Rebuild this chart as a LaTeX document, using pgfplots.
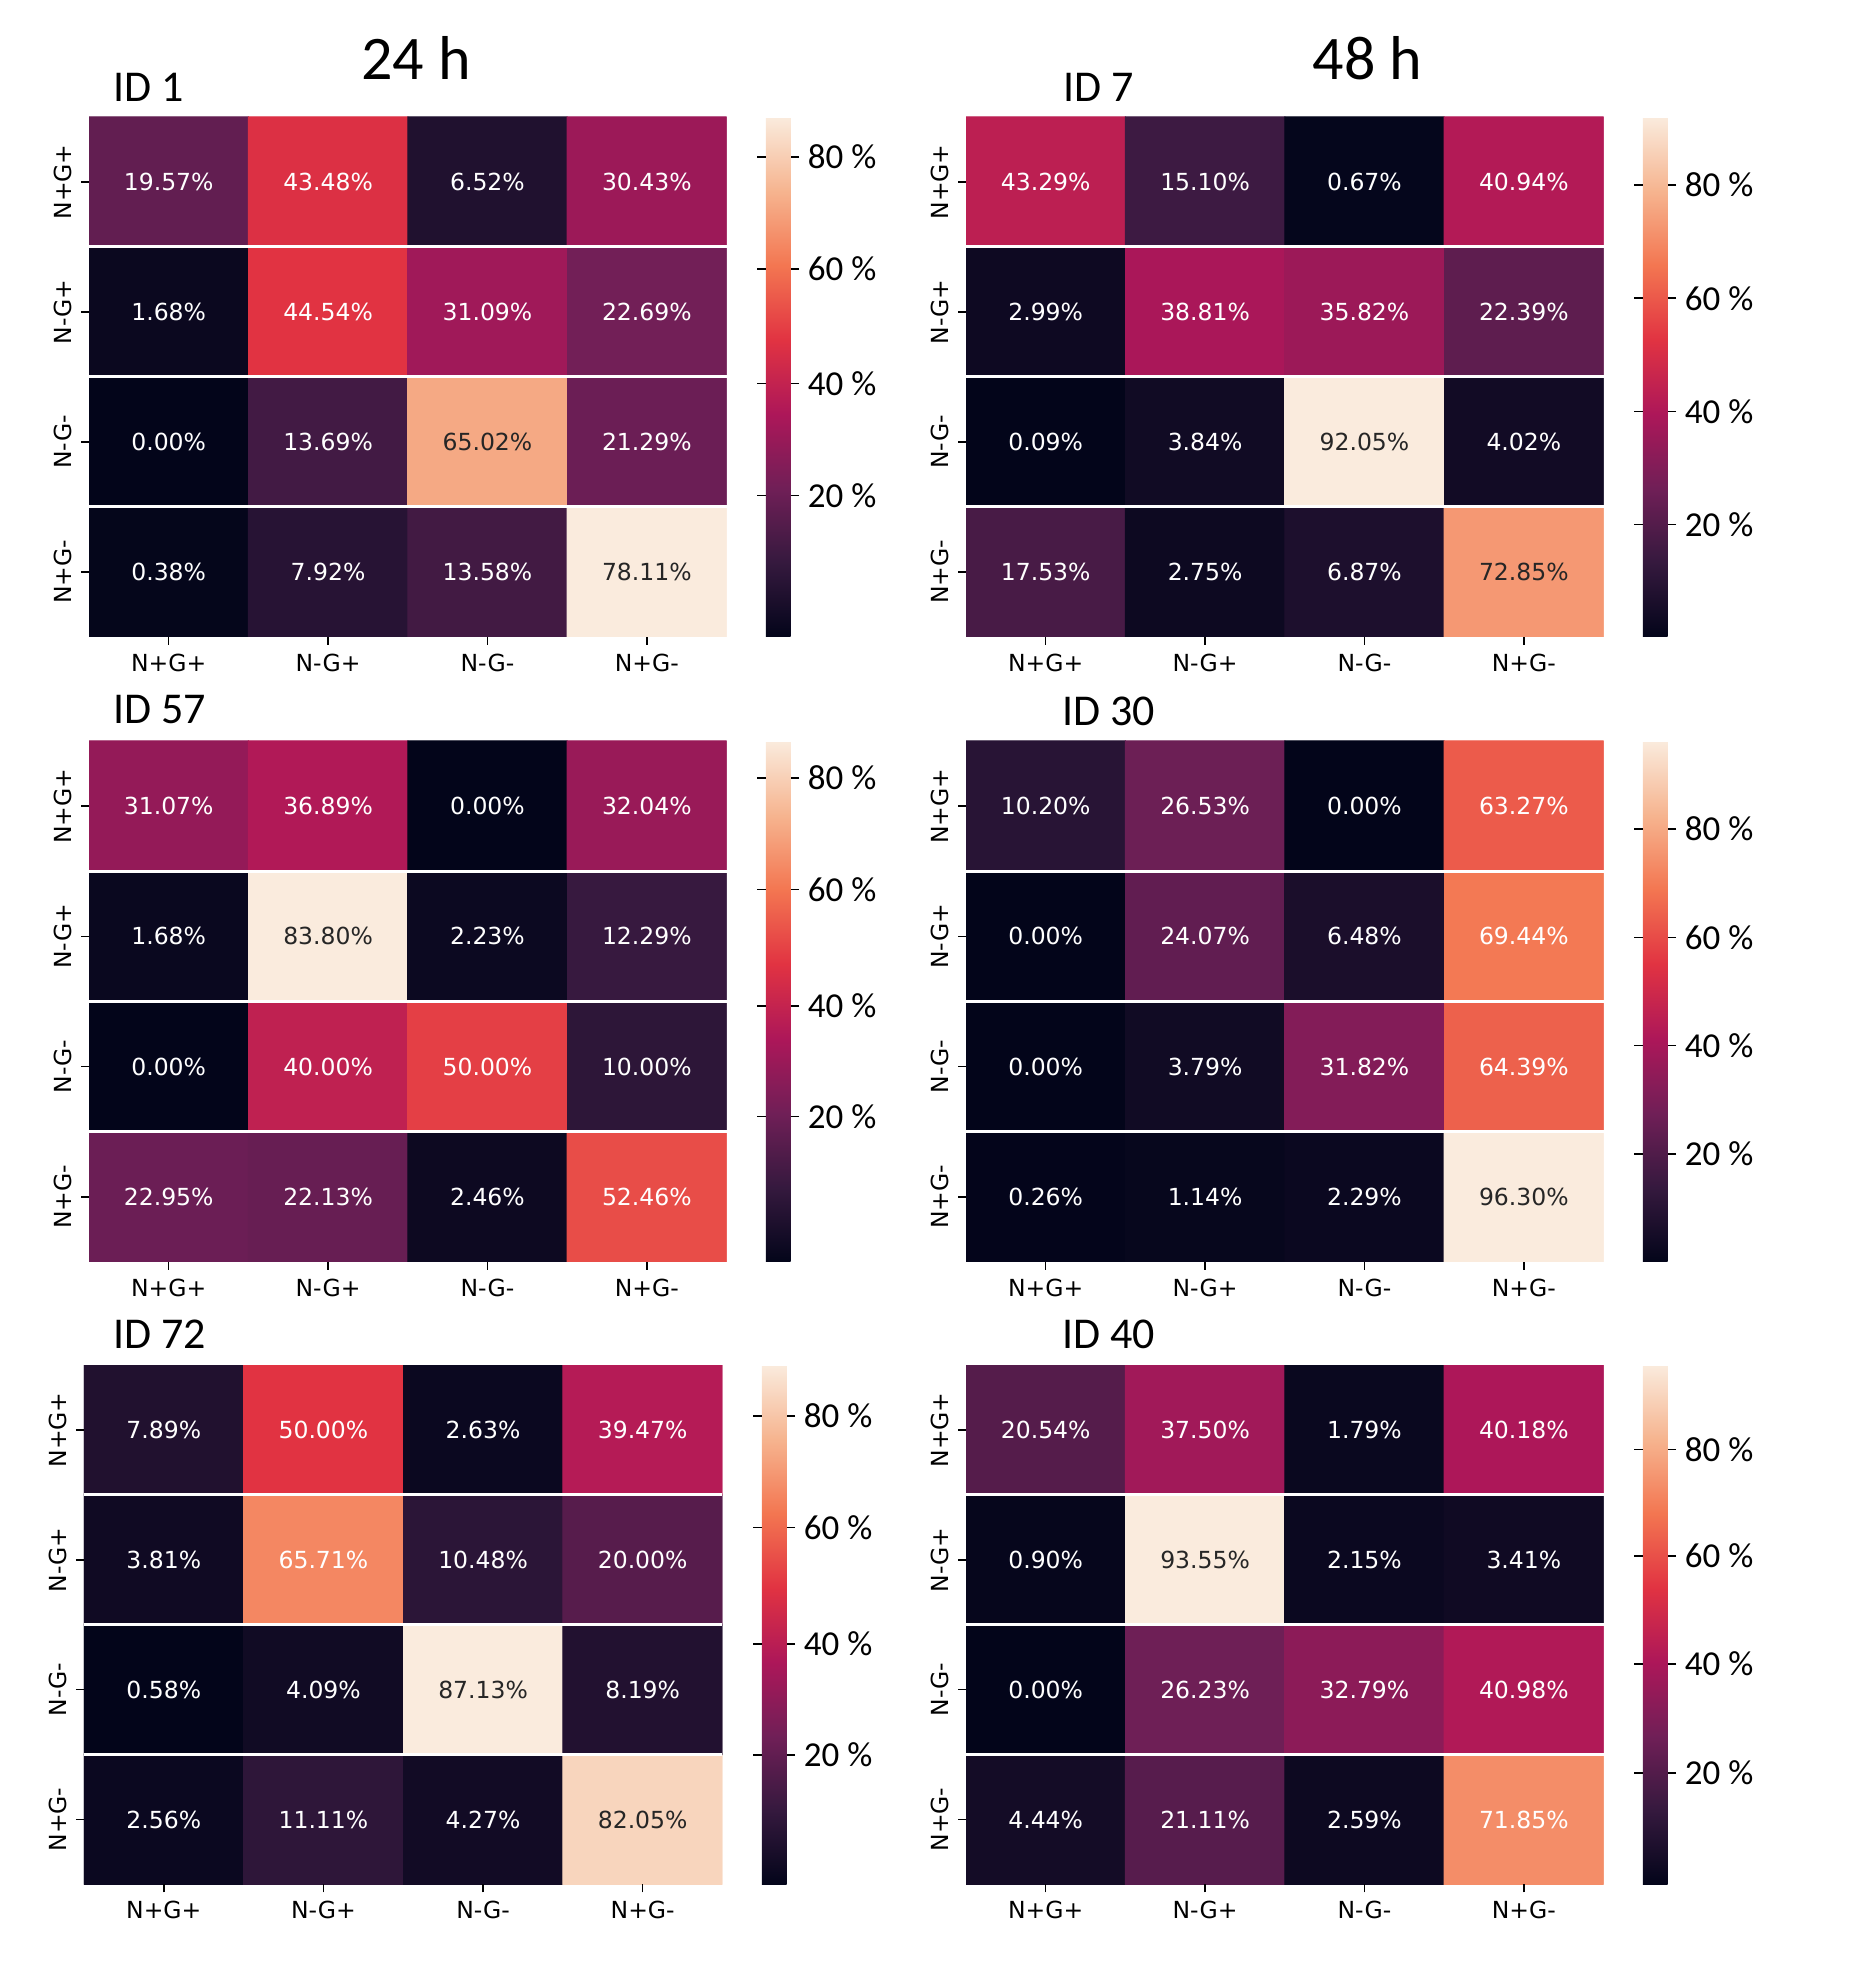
\documentclass[border=0pt]{standalone}
\usepackage{pgfplots}
\pgfplotsset{compat=1.18}
\usepackage{fontspec}
\setmainfont{Carlito}
\newfontfamily\djv{DejaVu Sans}
\newcommand\cellfont{\djv\fontsize{9.4}{11}\selectfont}
\newcommand\tickfont{\djv\fontsize{9.4}{11}\selectfont}
\newcommand\cbfont{\fontsize{14}{16}\selectfont}
\definecolor{darktxt}{RGB}{38,38,38}
\pgfplotsset{
  colormap={rocket}{rgb255(0)=(3,5,26) rgb255(1)=(53,25,62) rgb255(2)=(112,31,87) rgb255(3)=(173,23,89) rgb255(4)=(225,51,66) rgb255(5)=(243,118,81) rgb255(6)=(246,180,143) rgb255(7)=(250,235,221)},
  hm/.style={
    scale only axis, width=255pt, height=208pt,
    xmin=-0.5, xmax=3.5, ymin=-0.5, ymax=3.5,
    xtick={0,1,2,3}, ytick={0,1,2,3},
    xticklabels={N+G+,N-G+,N-G-,N+G-},
    yticklabels={N+G-,N-G-,N-G+,N+G+},
    tick align=outside, major tick length=3.2pt,
    xtick pos=left, ytick pos=left,
    tick style={black, line width=0.6pt},
    axis line style={draw=none},
    axis on top,
    xticklabel style={font=\tickfont},
    yticklabel style={font=\tickfont, rotate=90, anchor=south},
    extra y ticks={0.5,1.5,2.5}, extra y tick labels={},
    extra y tick style={grid=major, major grid style={white, line width=1.2pt}, major tick length=0pt},
    colorbar,
    colorbar style={at={(parent axis.north east)}, anchor=north west, xshift=7.2pt,
      width=9.9pt, scale only axis, axis line style={draw=none},
      tick align=outside, major tick length=3.4pt, ytick style={black, line width=0.6pt},
      yticklabel style={font=\cbfont}},
  },
  lab/.style={only marks, mark=*, mark size=0pt, mark options={draw=none, fill=none},
    point meta=explicit symbolic, nodes near coords={\pgfplotspointmeta\%},
    every node near coord/.append style={anchor=center, font=\cellfont, text=#1}},
}
\begin{document}
\begin{tikzpicture}
\useasboundingbox (0,0) rectangle (745.6pt,789.2pt);
% ---------- ID 1 ----------
\begin{axis}[hm, at={(35.6pt,534.4pt)}, anchor=south west, point meta min=0, point meta max=78.11,
  colorbar style={ytick={21.25,38.04,55.30,72.10}, yticklabels={20 \%,40 \%,60 \%,80 \%}}]
\addplot[matrix plot*, mesh/cols=4, point meta=explicit] table[meta=c] {
x y c
0 0 0.38
1 0 7.92
2 0 13.58
3 0 78.11
0 1 0.00
1 1 13.69
2 1 65.02
3 1 21.29
0 2 1.68
1 2 44.54
2 2 31.09
3 2 22.69
0 3 19.57
1 3 43.48
2 3 6.52
3 3 30.43
};
\addplot[lab=white] coordinates {(0,0)[0.38] (1,0)[7.92] (2,0)[13.58] (0,1)[0.00] (1,1)[13.69] (3,1)[21.29] (0,2)[1.68] (1,2)[44.54] (2,2)[31.09] (3,2)[22.69] (0,3)[19.57] (1,3)[43.48] (2,3)[6.52] (3,3)[30.43]};
\addplot[lab=darktxt] coordinates {(3,0)[78.11] (2,1)[65.02]};
\end{axis}
% ---------- ID 7 ----------
\begin{axis}[hm, at={(386.4pt,534.4pt)}, anchor=south west, point meta min=0.09, point meta max=92.05,
  colorbar style={ytick={20,40,60,80}, yticklabels={20 \%,40 \%,60 \%,80 \%}}]
\addplot[matrix plot*, mesh/cols=4, point meta=explicit] table[meta=c] {
x y c
0 0 17.53
1 0 2.75
2 0 6.87
3 0 72.85
0 1 0.09
1 1 3.84
2 1 92.05
3 1 4.02
0 2 2.99
1 2 38.81
2 2 35.82
3 2 22.39
0 3 43.29
1 3 15.10
2 3 0.67
3 3 40.94
};
\addplot[lab=white] coordinates {(0,0)[17.53] (1,0)[2.75] (2,0)[6.87] (0,1)[0.09] (1,1)[3.84] (3,1)[4.02] (0,2)[2.99] (1,2)[38.81] (2,2)[35.82] (3,2)[22.39] (0,3)[43.29] (1,3)[15.10] (2,3)[0.67] (3,3)[40.94]};
\addplot[lab=darktxt] coordinates {(3,0)[72.85] (2,1)[92.05]};
\end{axis}
% ---------- ID 57 ----------
\begin{axis}[hm, height=208.4pt, at={(35.6pt,284.4pt)}, anchor=south west, point meta min=0, point meta max=83.80,
  colorbar style={ytick={23.38,41.15,59.92,77.85}, yticklabels={20 \%,40 \%,60 \%,80 \%}}]
\addplot[matrix plot*, mesh/cols=4, point meta=explicit] table[meta=c] {
x y c
0 0 22.95
1 0 22.13
2 0 2.46
3 0 52.46
0 1 0.00
1 1 40.00
2 1 50.00
3 1 10.00
0 2 1.68
1 2 83.80
2 2 2.23
3 2 12.29
0 3 31.07
1 3 36.89
2 3 0.00
3 3 32.04
};
\addplot[lab=white] coordinates {(0,0)[22.95] (1,0)[22.13] (2,0)[2.46] (3,0)[52.46] (0,1)[0.00] (1,1)[40.00] (2,1)[50.00] (3,1)[10.00] (0,2)[1.68] (2,2)[2.23] (3,2)[12.29] (0,3)[31.07] (1,3)[36.89] (2,3)[0.00] (3,3)[32.04]};
\addplot[lab=darktxt] coordinates {(1,2)[83.80]};
\end{axis}
% ---------- ID 30 ----------
\begin{axis}[hm, height=208.4pt, at={(386.4pt,284.4pt)}, anchor=south west, point meta min=0, point meta max=96.30,
  colorbar style={ytick={20,40,60,80}, yticklabels={20 \%,40 \%,60 \%,80 \%}}]
\addplot[matrix plot*, mesh/cols=4, point meta=explicit] table[meta=c] {
x y c
0 0 0.26
1 0 1.14
2 0 2.29
3 0 96.30
0 1 0.00
1 1 3.79
2 1 31.82
3 1 64.39
0 2 0.00
1 2 24.07
2 2 6.48
3 2 69.44
0 3 10.20
1 3 26.53
2 3 0.00
3 3 63.27
};
\addplot[lab=white] coordinates {(0,0)[0.26] (1,0)[1.14] (2,0)[2.29] (0,1)[0.00] (1,1)[3.79] (2,1)[31.82] (3,1)[64.39] (0,2)[0.00] (1,2)[24.07] (2,2)[6.48] (3,2)[69.44] (0,3)[10.20] (1,3)[26.53] (2,3)[0.00] (3,3)[63.27]};
\addplot[lab=darktxt] coordinates {(3,0)[96.30]};
\end{axis}
% ---------- ID 72 ----------
\begin{axis}[hm, width=255.4pt, height=207.8pt, at={(33.6pt,35.4pt)}, anchor=south west, point meta min=0.58, point meta max=87.13,
  colorbar style={ytick={22.13,40.65,60.04,78.65}, yticklabels={20 \%,40 \%,60 \%,80 \%}}]
\addplot[matrix plot*, mesh/cols=4, point meta=explicit] table[meta=c] {
x y c
0 0 2.56
1 0 11.11
2 0 4.27
3 0 82.05
0 1 0.58
1 1 4.09
2 1 87.13
3 1 8.19
0 2 3.81
1 2 65.71
2 2 10.48
3 2 20.00
0 3 7.89
1 3 50.00
2 3 2.63
3 3 39.47
};
\addplot[lab=white] coordinates {(0,0)[2.56] (1,0)[11.11] (2,0)[4.27] (0,1)[0.58] (1,1)[4.09] (3,1)[8.19] (0,2)[3.81] (1,2)[65.71] (2,2)[10.48] (3,2)[20.00] (0,3)[7.89] (1,3)[50.00] (2,3)[2.63] (3,3)[39.47]};
\addplot[lab=darktxt] coordinates {(3,0)[82.05] (2,1)[87.13]};
\end{axis}
% ---------- ID 40 ----------
\begin{axis}[hm, height=207.8pt, at={(386.4pt,35.4pt)}, anchor=south west, point meta min=0, point meta max=93.55,
  colorbar style={ytick={20.11,39.67,59.12,78.30}, yticklabels={20 \%,40 \%,60 \%,80 \%}}]
\addplot[matrix plot*, mesh/cols=4, point meta=explicit] table[meta=c] {
x y c
0 0 4.44
1 0 21.11
2 0 2.59
3 0 71.85
0 1 0.00
1 1 26.23
2 1 32.79
3 1 40.98
0 2 0.90
1 2 93.55
2 2 2.15
3 2 3.41
0 3 20.54
1 3 37.50
2 3 1.79
3 3 40.18
};
\addplot[lab=white] coordinates {(0,0)[4.44] (1,0)[21.11] (2,0)[2.59] (3,0)[71.85] (0,1)[0.00] (1,1)[26.23] (2,1)[32.79] (3,1)[40.98] (0,2)[0.90] (2,2)[2.15] (3,2)[3.41] (0,3)[20.54] (1,3)[37.50] (2,3)[1.79] (3,3)[40.18]};
\addplot[lab=darktxt] coordinates {(1,2)[93.55]};
\end{axis}
% ---------- titles ----------
\node[anchor=base, inner sep=0pt, font=\fontsize{24.8}{28}\selectfont] at (166.4pt,757.4pt) {24 h};
\node[anchor=base, inner sep=0pt, font=\fontsize{24.8}{28}\selectfont] at (547pt,757.4pt) {48 h};
\node[anchor=base west, inner sep=0pt, font=\fontsize{17.6}{20}\selectfont] at (45.2pt,748.5pt) {ID 1};
\node[anchor=base west, inner sep=0pt, font=\fontsize{17.6}{20}\selectfont] at (425.1pt,748.5pt) {ID 7};
\node[anchor=base west, inner sep=0pt, font=\fontsize{17.6}{20}\selectfont] at (45.2pt,499.6pt) {ID 57};
\node[anchor=base west, inner sep=0pt, font=\fontsize{17.6}{20}\selectfont] at (424.6pt,498.8pt) {ID 30};
\node[anchor=base west, inner sep=0pt, font=\fontsize{17.6}{20}\selectfont] at (45.2pt,249.7pt) {ID 72};
\node[anchor=base west, inner sep=0pt, font=\fontsize{17.6}{20}\selectfont] at (424.6pt,249.7pt) {ID 40};
\end{tikzpicture}
\end{document}
